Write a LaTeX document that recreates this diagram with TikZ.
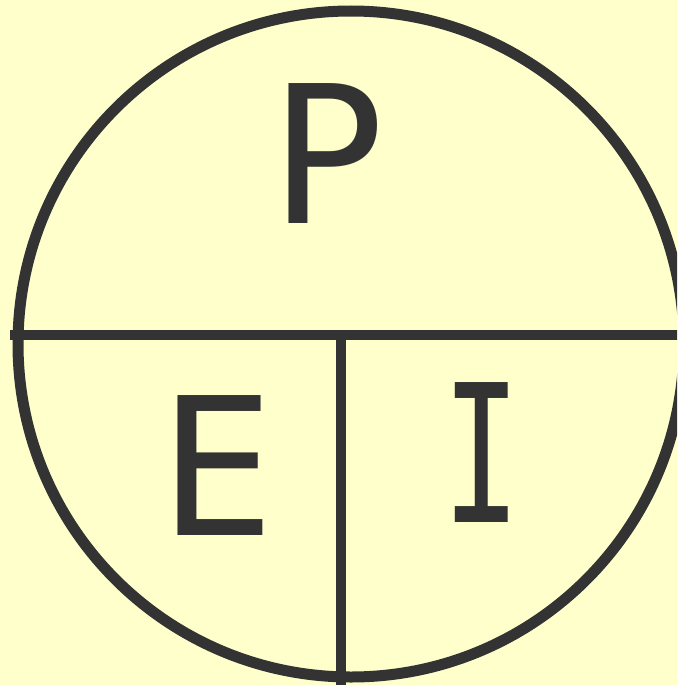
\documentclass[tikz,border=0pt]{standalone}
\usepackage{fontspec}
\newfontfamily\pieifont{DejaVu Sans Mono}
\definecolor{paper}{HTML}{FFFFCC}
\definecolor{ink}{HTML}{333333}
\tikzset{
    letter/.style={inner sep=0pt, text=ink, font=\pieifont\fontsize{192}{192}\selectfont}
}
\begin{document}
\begin{tikzpicture}[x=1pt, y=-1pt]
    \fill[paper] (0,0) rectangle (677,685);
    \useasboundingbox (0,0) rectangle (677,685);

    \coordinate (centre) at (351,344);
    \coordinate (left) at (10,335);
    \coordinate (right) at (690,335);
    \coordinate (split) at (341,335);
    \coordinate (bottom) at (341,690);

    \node[letter] (P) at (328,154) {P};
    \node[letter] (E) at (217,466) {E};
    \node[letter] (I) at (482,453) {\scalebox{0.68}[1]{I}};

    \begin{scope}
        \clip (0,0) rectangle (677,685);
        \draw[ink, line width=11pt] (centre) circle (333);
        \draw[ink, line width=10pt] (left) -- (right);
        \draw[ink, line width=10pt] (split) -- (bottom);
    \end{scope}
\end{tikzpicture}
\end{document}
